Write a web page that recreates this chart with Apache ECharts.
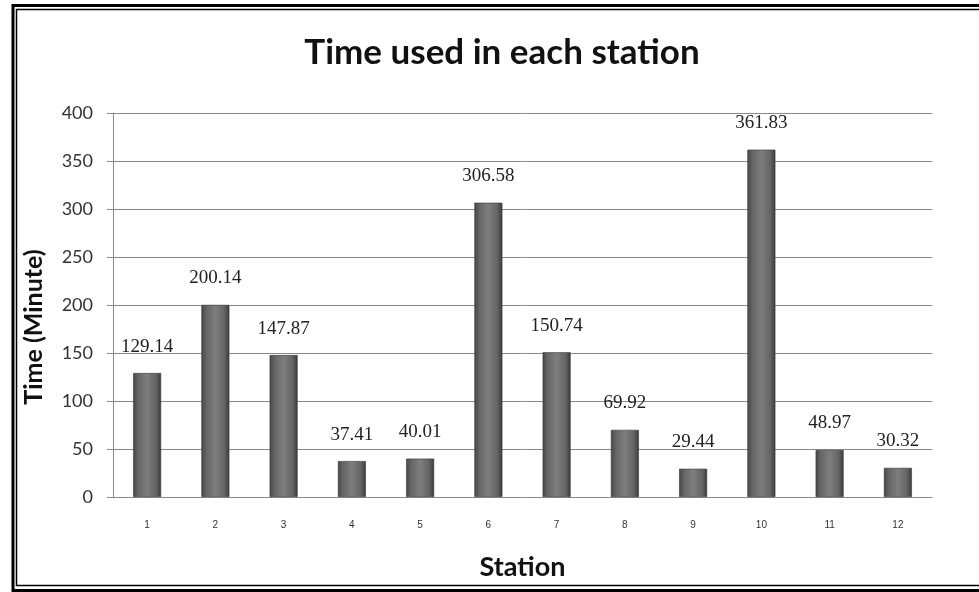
<!DOCTYPE html>
<html>
<head>
<meta charset="utf-8">
<script src="https://cdn.jsdelivr.net/npm/echarts@6/dist/echarts.min.js"></script>
<style>
  html, body { margin: 0; padding: 0; background: #fff; }
  #chart { width: 979px; height: 592px; }
</style>
</head>
<body>
<div id="chart"></div>
<script>
// Station labels along the horizontal axis
const stations = ['1', '2', '3', '4', '5', '6', '7', '8', '9', '10', '11', '12'];
// Time spent at each station, in minutes
const minutesUsed = [129.14, 200.14, 147.87, 37.41, 40.01, 306.58, 150.74, 69.92, 29.44, 361.83, 48.97, 30.32];
// Value axis ticks
const yTicks = [0, 50, 100, 150, 200, 250, 300, 350, 400];

const chart = echarts.init(document.getElementById('chart'), null, { renderer: 'canvas' });

const barFill = new echarts.graphic.LinearGradient(0, 0, 1, 0, [
  { offset: 0, color: '#454545' },
  { offset: 0.18, color: '#666666' },
  { offset: 0.5, color: '#7e7e7e' },
  { offset: 0.82, color: '#646464' },
  { offset: 1, color: '#3a3a3a' }
]);

const option = {
  backgroundColor: '#ffffff',
  animation: false,
  title: {
    text: 'Time used in each station',
    left: 497,
    top: 30,
    textAlign: 'center',
    textStyle: { fontFamily: 'Lato', fontWeight: 'bold', fontSize: 35, color: '#111' }
  },
  grid: { left: 113, right: 47, top: 113, bottom: 95, containLabel: false },
  xAxis: {
    type: 'category',
    data: stations,
    name: 'Station',
    nameLocation: 'middle',
    nameGap: 57,
    nameTextStyle: { fontFamily: 'Lato', fontWeight: 'bold', fontSize: 27, color: '#111' },
    axisLine: { show: true, lineStyle: { color: '#8a8a8a', width: 1 } },
    axisTick: { show: false },
    axisLabel: { margin: 23, fontFamily: 'Liberation Sans', fontSize: 10, color: '#333' }
  },
  yAxis: {
    type: 'value',
    min: yTicks[0],
    max: yTicks[yTicks.length - 1],
    interval: yTicks[1] - yTicks[0],
    axisLine: { show: true, lineStyle: { color: '#8a8a8a', width: 1 } },
    axisTick: { show: true, length: 6, lineStyle: { color: '#8a8a8a' } },
    axisLabel: { margin: 20, fontFamily: 'Lato', fontSize: 18, color: '#333' },
    splitLine: { show: true, lineStyle: { color: '#8a8a8a', width: 1 } }
  },
  series: [{
    type: 'bar',
    data: minutesUsed,
    barWidth: 28,
    itemStyle: { color: barFill, borderColor: '#3a3a3a', borderWidth: 0.6 },
    label: {
      show: true,
      position: 'top',
      distance: 17,
      fontFamily: 'Liberation Serif',
      fontSize: 19,
      color: '#222',
      formatter: p => p.value.toFixed(2)
    }
  }],
  graphic: [
    // double frame around the chart
    { type: 'rect', shape: { x: 13, y: 5.5, width: 1000, height: 585 }, style: { fill: 'none', stroke: '#000', lineWidth: 3 }, silent: true },
    { type: 'rect', shape: { x: 16.5, y: 9.5, width: 1000, height: 576 }, style: { fill: 'none', stroke: '#000', lineWidth: 1.5 }, silent: true },
    // vertical axis title
    {
      type: 'text',
      x: 34, y: 327,
      rotation: Math.PI / 2,
      style: {
        text: 'Time (Minute)',
        fontFamily: 'Lato', fontWeight: 'bold', fontSize: 25, fill: '#111',
        align: 'center', verticalAlign: 'middle'
      }
    }
  ]
};

chart.setOption(option);
</script>
</body>
</html>
